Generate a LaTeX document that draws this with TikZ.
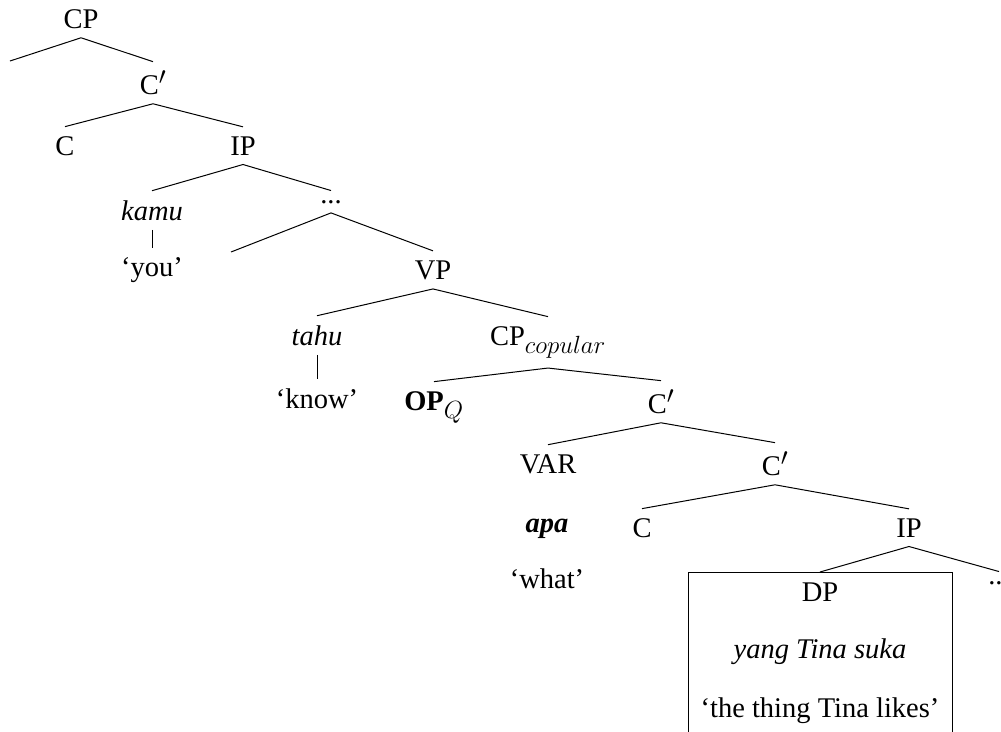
\documentclass[tikz,border=0pt]{standalone}
\usepackage{fontspec}
\setmainfont{Liberation Serif}
\DeclareMathSizes{28.5}{28.5}{23}{18}
\begin{document}
\begin{tikzpicture}[x=1pt,y=-1pt,
  lab/.style={font=\fontsize{28.5}{34}\selectfont, anchor=base, inner xsep=1pt, inner ysep=9.5pt, outer sep=0pt},
  branch/.style={line width=1pt},
  framebox/.style={draw, line width=1pt, anchor=north, minimum width=264pt, minimum height=175pt, inner sep=0pt}]
\clip (0,0) rectangle (1001,731);

% matrix clause
\node[lab] (cp)     at (81,28)   {CP};
\coordinate (spec)  at (10,61);
\node[lab] (c1)     at (153,94)  {C$'$};
\node[lab] (chead)  at (65,155)  {C};
\node[lab] (ip1)    at (243,155) {IP};
\node[lab] (kamu)   at (152,220) {\textit{kamu}};
\node[lab] (you)    at (152,276) {‘you’};
\node[lab] (dotsA)  at (331,203) {...};
\coordinate (gap)   at (231,252);
\node[lab] (vp)     at (433,279) {VP};
\node[lab] (tahu)   at (317,345) {\textit{tahu}};
\node[lab] (know)   at (317,408) {‘know’};

% embedded copular clause
\node[lab] (cpcop)  at (548,345) {CP$_{copular}$};
\node[lab] (opq)    at (434,410) {\textbf{OP}$_Q$};
\node[lab] (c2)     at (661,413) {C$'$};
\node[lab] (var)    at (548,473) {VAR};
\node[lab] (apa)    at (547,532) {\textbf{\textit{apa}}};
\node[lab] (what)   at (547,588) {‘what’};
\node[lab] (c3)     at (775,475) {C$'$};
\node[lab] (chead2) at (642,537) {C};
\node[lab] (ip2)    at (909,537) {IP};
\node[framebox] (box) at (820,572) {};
\node[lab] (dp)     at (820,601) {DP};
\node[lab] (yang)   at (820,658) {\textit{yang Tina suka}};
\node[lab] (thing)  at (820,717) {‘the thing Tina likes’};
\node[lab] (dotsB)  at (999,584) {...};

% branches
\draw[branch] (spec) -- (cp.south) -- (c1.north);
\draw[branch] (chead.north) -- (c1.south) -- (ip1.north);
\draw[branch] (kamu.north) -- (ip1.south) -- (dotsA.north);
\draw[branch] (kamu.south) -- (you.north);
\draw[branch] (gap) -- (dotsA.south) -- (vp.north);
\draw[branch] (tahu.north) -- (vp.south) -- (cpcop.north);
\draw[branch] (tahu.south) -- (know.north);
\draw[branch] (opq.north) -- (cpcop.south) -- (c2.north);
\draw[branch] (var.north) -- (c2.south) -- (c3.north);
\draw[branch] (chead2.north) -- (c3.south) -- (ip2.north);
\draw[branch] (box.north) -- (ip2.south) -- (dotsB.north);
\end{tikzpicture}
\end{document}
